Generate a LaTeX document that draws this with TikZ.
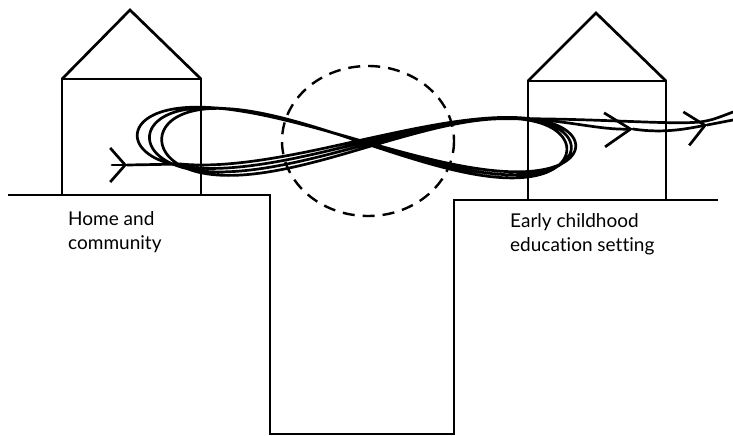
\documentclass[tikz,border=0pt]{standalone}
\usepackage{fontspec}
\setmainfont{Lato}[Ligatures=NoCommon]
\usepackage{tikz}
\usetikzlibrary{calc, arrows.meta}

\begin{document}
\begin{tikzpicture}[
  x=1pt, y=-1pt,
  wall/.style={draw, line width=2.7pt, line join=miter},
  ground/.style={draw, line width=2.7pt},
  strand/.style={draw, line width=2.7pt, line cap=round},
  barb/.style={-{Straight Barb[length=#1, width=34pt]}},
  zone/.style={draw, line width=2.4pt, dash pattern=on 12pt off 8pt},
  place/.style={font=\fontsize{19}{24}\selectfont, align=left,
                anchor=north west, inner sep=0pt},
  declare function={ax(\t)=234-0.024*(\t+150);
                    cx(\t)=360+0.01*(\t+150);
                    bx(\t)=58+0.008*(\t+150);
                    fx(\t)=0.965-0.035*sign(cos(\t));
                    gx(\t)=0.955-0.045*sign(cos(\t));
                    px(\t)=cx(\t)+fx(\t)*ax(\t)*cos(\t);
                    py(\t)=140+0.005*(\t+150)+0.025*(px(\t)-365)
                           +gx(\t)*bx(\t)*sin(\t)*cos(\t);}
]
  \useasboundingbox (0,0) rectangle (733,436);

  % ── ground ──
  \draw[ground] (8,195) -- (270,195) -- (270,434) -- (454,434)
                -- (454,200) -- (718,200);

  % ── houses ──
  \draw[wall] (62,195) -- (62,79) -- (201,79) -- (201,195);
  \draw[wall] (62,79) -- (130,10) -- (201,79);
  \draw[wall] (528,199) -- (528,81) -- (666,81) -- (666,199);
  \draw[wall] (528,81) -- (596,13) -- (666,81);

  % ── overlap zone ──
  \draw[zone] (368,141) ellipse [x radius=86, y radius=75];

  % ── labels ──
  \node[place] (home) at (68,211) {Home and\\community};
  \node[place] (ece) at (510,213) {Early childhood\\education setting};

  % ── the figure of eight ──
  \coordinate (inTail) at (112,165);
  \coordinate (inTip) at (127,165);
  \coordinate (split) at (528,119);
  \coordinate (tipA) at (633,129);
  \coordinate (tipB) at (707,125);
  \coordinate (upR) at (733,112);
  \coordinate (lowR) at (733,120);

  \draw[strand, barb=15pt] (inTail) -- (inTip);
  \draw[strand] (inTip) -- plot[domain=-140:1035, samples=700, smooth]
      ({px(\x)}, {py(\x)})
      .. controls (590,118) and (670,125) .. (700,122)
      .. controls (712,120) .. (upR);
  \draw[strand, barb=26pt] (split) .. controls (570,121) and (600,130) .. (tipA);
  \draw[strand, barb=19pt] (tipA) .. controls (665,134) and (690,128) .. (tipB);
  \draw[strand] (tipB) -- (lowR);
\end{tikzpicture}
\end{document}
